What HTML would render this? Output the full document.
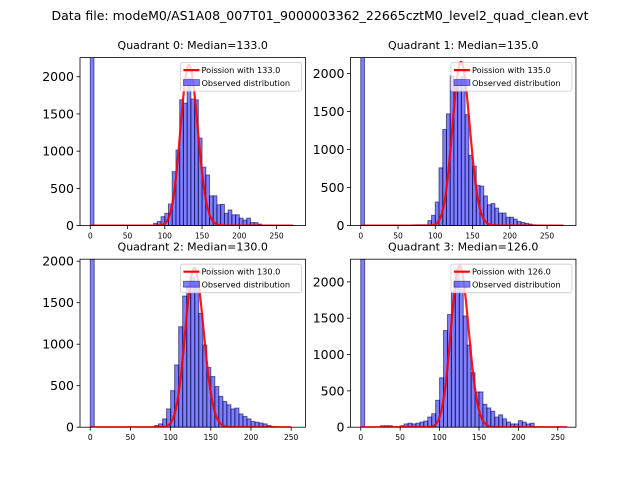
<!DOCTYPE html>
<html><head><meta charset="utf-8"><style>
body{margin:0;background:#fff}
svg{display:block;font-family:"DejaVu Sans","Liberation Sans",sans-serif}
</style></head><body>
<svg id="chart" width="640" height="480" viewBox="0 0 640 480">
<rect width="640" height="480" fill="#fff"/>
<text x="320" y="20" text-anchor="middle" font-size="12.5" textLength="537" lengthAdjust="spacingAndGlyphs">Data file: modeM0/AS1A08_007T01_9000003362_22665cztM0_level2_quad_clean.evt</text>
</svg>
<script>
// ---- data ----
const quadrantNames = ["Quadrant 0","Quadrant 1","Quadrant 2","Quadrant 3"];
const medians = [133.0, 135.0, 130.0, 126.0];
const binWidth = 5;
const zeroBin = [2600, 2600, 2600, 2600];
const q0Start = 85;
const q0Counts = [30,55,120,165,290,725,1015,1690,1645,1980,1700,1690,1175,785,680,400,400,280,285,165,210,145,145,100,75,100,40,40,20,8,6,5,4,3,3,3,2,2];
const q1Start = 70;
const q1Counts = [10,10,10,10,65,135,310,760,1265,1470,1970,1840,1930,1960,1460,925,780,530,520,390,275,290,230,165,165,110,110,85,55,40,30,20,10,8,6,4,3,3];
const q2Start = 80;
const q2Counts = [20,40,100,220,440,750,1210,1580,1700,1800,1720,1370,990,720,610,490,370,310,270,220,230,160,130,100,70,60,50,40,20,8];
const q3Start = 25;
const q3Counts = [20,20,20,5,5,20,45,55,45,55,70,85,140,185,370,680,1330,1550,1860,2175,1900,1530,1130,750,485,485,315,265,220,140,170,115,70,45,45,90,70,45,55,3,3,3];
const starts = [q0Start,q1Start,q2Start,q3Start];
const counts = [q0Counts,q1Counts,q2Counts,q3Counts];
const poissonPeak = [2160, 2150, 1920, 2220];
const curveEnd = [272, 272, 250, 262];
const xMax = [275, 275, 255, 260];
const yMax = [2257, 2210, 2024, 2312];
const yTicks = [0,500,1000,1500,2000];
const xTickSets = [[0,50,100,150,200,250],[0,50,100,150,200,250],[0,50,100,150,200,250],[0,50,100,150,200,250]];

// ---- layout ----
const NS = "http://www.w3.org/2000/svg";
const svg = document.getElementById("chart");
const panels = [{l:80,t:57.6},{l:350.5,t:57.6},{l:80,t:259.2},{l:350.5,t:259.2}];
const PW = 225.45, PH = 168;
function mk(tag, attrs, parent){const e=document.createElementNS(NS,tag);for(const k in attrs)e.setAttribute(k,attrs[k]);(parent||svg).appendChild(e);return e;}
function logFact(n){let s=0;for(let i=2;i<=n;i++)s+=Math.log(i);return s;}

panels.forEach((p,qi)=>{
  const g = mk("g",{});
  
  
  const R = xMax[qi], x0 = -0.05*R, x1 = 1.05*R;
  const xs = v => p.l + (v - x0)/(x1 - x0)*PW;
  const ys = v => p.t + PH - v/yMax[qi]*PH;
  const clipId = "clip"+qi;
  const cp = mk("clipPath",{id:clipId},g);
  mk("rect",{x:p.l,y:p.t,width:PW,height:PH},cp);
  const plot = mk("g",{"clip-path":"url(#"+clipId+")"},g);
  const zb = mk("rect",{x:xs(0),y:ys(zeroBin[qi]),width:xs(binWidth)-xs(0),height:ys(0)-ys(zeroBin[qi]),fill:"rgba(0,0,255,0.5)",stroke:"rgba(0,0,60,0.55)","stroke-width":1},plot);
  
  
  counts[qi].forEach((c,i)=>{
    const b0 = starts[qi] + i*binWidth;
    const r = mk("rect",{x:xs(b0),y:ys(c),width:xs(b0+binWidth)-xs(b0),height:ys(0)-ys(c),fill:"rgba(0,0,255,0.5)",stroke:"rgba(0,0,60,0.55)","stroke-width":1},plot);
    
    
  });
  const mu = medians[qi];
  const pk = Math.exp(Math.round(mu)*Math.log(mu) - mu - logFact(Math.round(mu)));
  let d = "";
  for(let k=0;k<=curveEnd[qi];k++){
    const pmf = Math.exp(k*Math.log(Math.max(mu,1e-9)) - mu - logFact(k));
    const v = pmf/pk*poissonPeak[qi];
    d += (k?"L":"M")+xs(k).toFixed(2)+","+ys(v).toFixed(2);
  }
  const line = mk("path",{d:d,fill:"none",stroke:"rgba(255,0,0,0.9)","stroke-width":2.2,"stroke-linejoin":"round"},plot);
  
  
  const fr = mk("rect",{x:p.l,y:p.t,width:PW,height:PH,fill:"none",stroke:"#000","stroke-width":0.8},g);
  
  
  yTicks.forEach(t=>{
    const y = ys(t);
    mk("line",{x1:p.l-3.5,x2:p.l,y1:y,y2:y,stroke:"#000","stroke-width":0.8},g);
    const tx = mk("text",{x:p.l-6,y:y+4.5,"text-anchor":"end","font-size":12.5},g);
    tx.textContent = t;
    
    
  });
  xTickSets[qi].forEach(t=>{
    const x = xs(t);
    mk("line",{x1:x,x2:x,y1:p.t+PH,y2:p.t+PH+3.5,stroke:"#000","stroke-width":0.8},g);
    const tx = mk("text",{x:x,y:p.t+PH+13,"text-anchor":"middle","font-size":7.5},g);
    tx.textContent = t;
    
    
  });
  const ti = mk("text",{x:p.l+PW/2,y:p.t-8.5,"text-anchor":"middle","font-size":11},g);
  ti.textContent = quadrantNames[qi] + ": Median=" + medians[qi].toFixed(1);
  
  
  const lg = mk("g",{},g);
  
  
  const lx = p.l+PW-125, ly = p.t+5;
  mk("rect",{x:lx,y:ly,width:121,height:28.5,rx:2,fill:"rgba(255,255,255,0.8)",stroke:"#ccc","stroke-width":0.8},lg);
  mk("line",{x1:lx+3,x2:lx+19,y1:ly+7.5,y2:ly+7.5,stroke:"red","stroke-width":2.2},lg);
  const t1 = mk("text",{x:lx+21,y:ly+10.3,"font-size":8.2},lg);
  t1.textContent = "Poission with " + medians[qi].toFixed(1);
  
  
  mk("rect",{x:lx+3,y:ly+17,width:16,height:6,fill:"rgba(0,0,255,0.5)",stroke:"rgba(0,0,60,0.55)","stroke-width":0.8},lg);
  const t2 = mk("text",{x:lx+21,y:ly+23.3,"font-size":8.2},lg);
  t2.textContent = "Observed distribution";
  
  
});
</script>
</body></html>
